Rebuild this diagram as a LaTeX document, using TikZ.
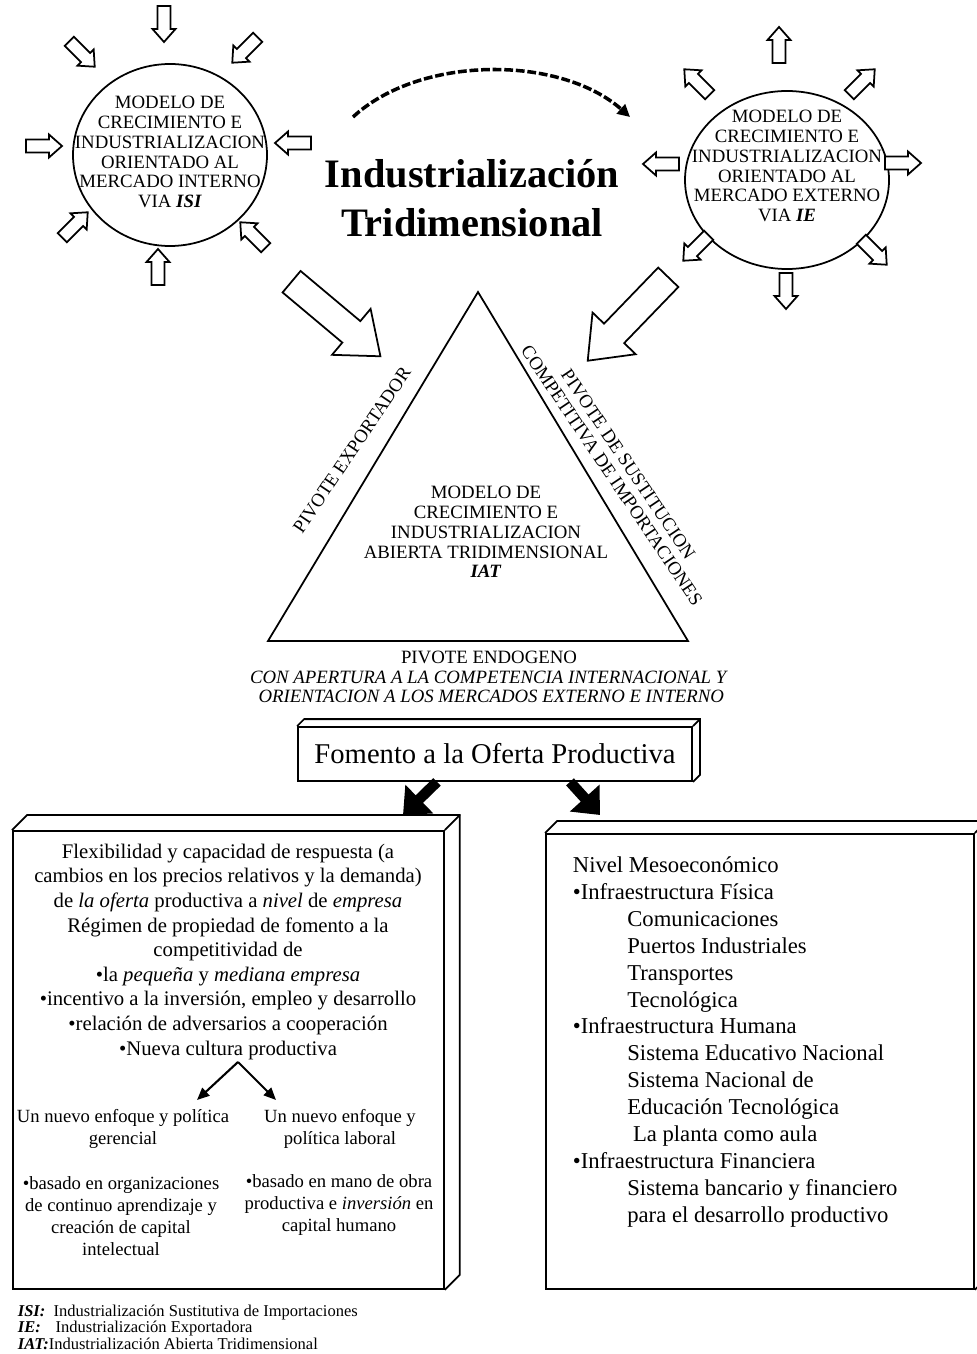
\documentclass[tikz,border=0pt]{standalone}
\usepackage{fontspec}
\setmainfont{Liberation Serif}
\usetikzlibrary{arrows.meta, shapes.geometric}

\newcommand{\pxu}{0.02cm}

\tikzset{
  captext/.style={font=\fontsize{10.7}{11.3}\selectfont, align=center, inner sep=0pt},
  boxtext/.style={font=\fontsize{11.8}{14}\selectfont, align=center, inner sep=0pt},
  smalltext/.style={font=\fontsize{10.6}{12.5}\selectfont, align=center, inner sep=0pt},
  mesotext/.style={font=\fontsize{12.9}{15.3}\selectfont, align=left, inner sep=0pt},
  notetext/.style={font=\fontsize{9.4}{9.4}\selectfont, align=left, inner sep=0pt},
  fatarrow/.style={line width=6pt, -{Triangle[length=13pt, width=22pt]}},
  forkarrow/.style={line width=1.2pt, -{Triangle[length=7pt, width=6pt]}},
  pics/smallarrow/.style={code={
    \draw[fill=white] (-18,-6.5) -- (5,-6.5) -- (5,-11.5) -- (18,0) -- (5,11.5) -- (5,6.5) -- (-18,6.5) -- cycle;}},
  pics/bigarrow/.style={code={
    \draw[fill=white] (-58,-14) -- (20,-14) -- (20,-30) -- (58,0) -- (20,30) -- (20,14) -- (-58,14) -- cycle;}}
}

\begin{document}
\begin{tikzpicture}[x=0.02cm, y=-0.02cm, line width=1pt]
\useasboundingbox (0,0) rectangle (976,1354);
% Left circle
\node[draw, ellipse, minimum width=194*\pxu, minimum height=182*\pxu] (isi) at (170,155) {};
\node[captext] (isilabel) at (170,152) {MODELO DE\\CRECIMIENTO E\\INDUSTRIALIZACION\\ORIENTADO AL\\MERCADO INTERNO\\VIA \textbf{\textit{ISI}}};
% Arrows into the left circle
\pic[rotate=-90] at (164,24) {smallarrow};
\pic[rotate=-45] at (82,54) {smallarrow};
\pic[rotate=-135] at (245,50) {smallarrow};
\pic[rotate=0] at (44,146) {smallarrow};
\pic[rotate=180] at (293,143) {smallarrow};
\pic[rotate=45] at (75,225) {smallarrow};
\pic[rotate=135] at (253,235) {smallarrow};
\pic[rotate=90] at (158,267) {smallarrow};
% Right circle
\node[draw, ellipse, minimum width=204*\pxu, minimum height=178*\pxu] (ie) at (787,180) {};
\node[captext] (ielabel) at (787,166) {MODELO DE\\CRECIMIENTO E\\INDUSTRIALIZACION\\ORIENTADO AL\\MERCADO EXTERNO\\VIA \textbf{\textit{IE}}};
% Arrows out of the right circle
\pic[rotate=90] at (779,45) {smallarrow};
\pic[rotate=135] at (697,82) {smallarrow};
\pic[rotate=45] at (862,82) {smallarrow};
\pic[rotate=180] at (661,164) {smallarrow};
\pic[rotate=0] at (903,163) {smallarrow};
\pic[rotate=-135] at (696,248) {smallarrow};
\pic[rotate=-45] at (874,252) {smallarrow};
\pic[rotate=-90] at (786,291) {smallarrow};
% Title and dashed arc
\node[font=\fontsize{23}{28}\selectfont\bfseries, align=center, inner sep=0pt] (title) at (472,198) {Industrialización\\Tridimensional};
\coordinate (arcstart) at (353,117);
\coordinate (arcend) at (630,117);
\draw[line width=2pt, dash pattern=on 5pt off 1.6pt, -{Triangle[length=7pt, width=7pt]}] (arcstart) .. controls (420,55) and (560,55) .. (arcend);
% Triangle
\coordinate (apex) at (478,292);
\coordinate (baseleft) at (268,641);
\coordinate (baseright) at (688,641);
\draw (apex) -- (baseleft) -- (baseright) -- cycle;
\node[captext] (iatlabel) at (486,532) {MODELO DE\\CRECIMIENTO E\\INDUSTRIALIZACION\\ABIERTA TRIDIMENSIONAL\\\textbf{\textit{IAT}}};
\node[captext, rotate=56] (exportador) at (352,450) {PIVOTE EXPORTADOR};
\node[captext, rotate=-56] (sustitucion) at (620,470) {PIVOTE DE SUSTITUCION\\COMPETITIVA DE IMPORTACIONES};
% Big arrows onto the triangle
\pic[rotate=-40] at (336,319) {bigarrow};
\pic[rotate=-134] at (628,319) {bigarrow};
% Base label
\node[captext] (endogeno) at (489,677) {PIVOTE ENDOGENO\\\textit{CON APERTURA A LA COMPETENCIA INTERNACIONAL Y}\\\textit{\ ORIENTACION A LOS MERCADOS EXTERNO E INTERNO}};
% Fomento box
\node[draw, minimum width=394*\pxu, minimum height=54*\pxu, font=\fontsize{16.3}{19}\selectfont] (fomento) at (495,754) {Fomento a la Oferta Productiva};
\draw (fomento.north west) -- ++(7,-7) -- ([shift={(7,-7)}]fomento.north east) -- ([shift={(7,-7)}]fomento.south east) -- (fomento.south east);
\draw (fomento.north east) -- ++(7,-7);
\coordinate (leftin) at (403,815);
\coordinate (rightin) at (600,815);
\draw[fatarrow] ([xshift=-58*\pxu]fomento.south) -- (leftin);
\draw[fatarrow] ([xshift=75*\pxu]fomento.south) -- (rightin);
% Left box
\node[draw, minimum width=431*\pxu, minimum height=458*\pxu, anchor=north west, inner sep=0pt] (leftbox) at (12,830) {};
\draw (leftbox.north west) -- ++(15,-15) -- ([shift={(15,-15)}]leftbox.north east) -- ([shift={(15,-15)}]leftbox.south east) -- (leftbox.south east);
\draw (leftbox.north east) -- ++(15,-15);
\node[boxtext, anchor=north] (flexlabel) at (228,843) {Flexibilidad y capacidad de respuesta (a\\cambios en los precios relativos y la demanda)\\de \textit{la oferta} productiva a \textit{nivel} de \textit{empresa}\\Régimen de propiedad de fomento a la\\competitividad de\\•la \textit{pequeña} y \textit{mediana empresa}\\•incentivo a la inversión, empleo y desarrollo\\•relación de adversarios a cooperación\\•Nueva cultura productiva};
\coordinate (fork) at (238,1062);
\coordinate (gerin) at (197,1100);
\coordinate (labin) at (276,1100);
\draw[forkarrow] (fork) -- (gerin);
\draw[forkarrow] (fork) -- (labin);
\node[smalltext] (gerencial) at (123,1129) {Un nuevo enfoque y política\\gerencial};
\node[smalltext] (laboral) at (340,1129) {Un nuevo enfoque y\\política laboral};
\node[smalltext] (organizaciones) at (121,1216) {•basado en organizaciones\\de continuo aprendizaje y\\creación de capital\\intelectual};
\node[smalltext] (capital) at (339,1205) {•basado en mano de obra\\productiva e \textit{inversión} en\\capital humano};
% Right box
\node[draw, minimum width=428*\pxu, minimum height=455*\pxu, anchor=north west, inner sep=0pt] (rightbox) at (545,833) {};
\draw (rightbox.north west) -- ++(12,-12) -- ([shift={(12,-12)}]rightbox.north east) -- ([shift={(12,-12)}]rightbox.south east) -- (rightbox.south east);
\draw (rightbox.north east) -- ++(12,-12);
\node[mesotext, anchor=north west] (meso) at (572,856) {Nivel Mesoeconómico\\•Infraestructura Física\\\hspace*{31pt}Comunicaciones\\\hspace*{31pt}Puertos Industriales\\\hspace*{31pt}Transportes\\\hspace*{31pt}Tecnológica\\•Infraestructura Humana\\\hspace*{31pt}Sistema Educativo Nacional\\\hspace*{31pt}Sistema Nacional de\\\hspace*{31pt}Educación Tecnológica\\\hspace*{31pt} La planta como aula\\•Infraestructura Financiera\\\hspace*{31pt}Sistema bancario y financiero\\\hspace*{31pt}para el desarrollo productivo};
% Footnotes
\node[notetext, anchor=north west] (notes) at (17,1304) {\makebox[20.4pt][l]{\bfseries\itshape ISI:}Industrialización Sustitutiva de Importaciones\\\makebox[21.5pt][l]{\bfseries\itshape IE:}Industrialización Exportadora\\{\bfseries\itshape IAT:}Industrialización Abierta Tridimensional};
\end{tikzpicture}
\end{document}
